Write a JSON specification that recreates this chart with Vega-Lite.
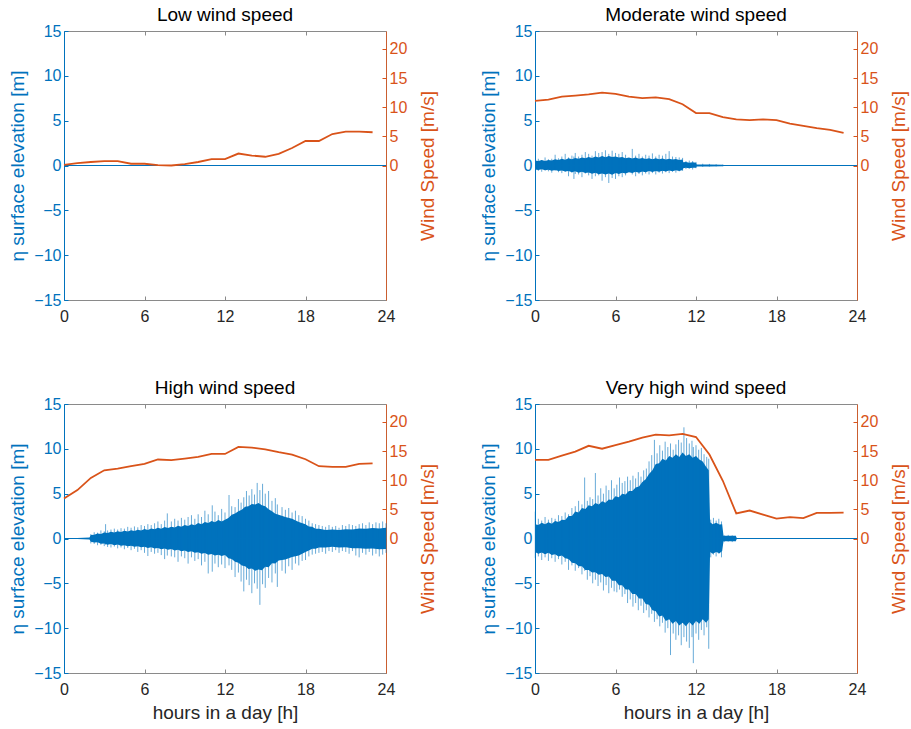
{
  "$schema": "https://vega.github.io/schema/vega-lite/v6.json",
  "background": "white",
  "padding": {"left": 8, "top": 5, "right": 0, "bottom": 0},
  "spacing": {"row": 53, "column": 40},
  "config": {
    "font": "Liberation Sans",
    "view": {"stroke": "#8a8a8a", "strokeWidth": 1},
    "title": {"fontSize": 19, "fontWeight": "normal", "font": "Liberation Sans", "color": "#000000", "offset": -2, "frame": "group"},
    "axis": {"grid": false, "labelFontSize": 16, "titleFontSize": 19, "titleFontWeight": "normal", "ticks": true, "tickSize": -4, "tickWidth": 1, "labelPadding": 7, "titlePadding": 6, "domainWidth": 1, "labelFont": "Liberation Sans", "titleFont": "Liberation Sans", "labelFlush": false},
    "axisLeft": {"labelColor": "#0072BD", "titleColor": "#0072BD", "domainColor": "#0072BD", "tickColor": "#0072BD"},
    "axisRight": {"labelColor": "#D95319", "titleColor": "#D95319", "domainColor": "#D95319", "tickColor": "#D95319", "domainOpacity": 0.8, "titleBaseline": "top", "titlePadding": 12},
    "axisBottom": {"labelColor": "#262626", "titleColor": "#262626", "domainColor": "#8a8a8a", "tickColor": "#8a8a8a", "labelPadding": 12, "titlePadding": 6},
    "axisTop": {"tickColor": "#8a8a8a"}
  },
  "datasets": {
    "wind": [
      {"p":"Low","t":0,"w":0.1},{"p":"Low","t":1,"w":0.4},{"p":"Low","t":2,"w":0.6},{"p":"Low","t":3,"w":0.75},{"p":"Low","t":4,"w":0.75},{"p":"Low","t":5,"w":0.3},{"p":"Low","t":6,"w":0.3},{"p":"Low","t":7,"w":0.05},{"p":"Low","t":8,"w":0},{"p":"Low","t":9,"w":0.25},{"p":"Low","t":10,"w":0.6},{"p":"Low","t":11,"w":1.1},{"p":"Low","t":12,"w":1.1},{"p":"Low","t":13,"w":2.05},{"p":"Low","t":14,"w":1.7},{"p":"Low","t":15,"w":1.5},{"p":"Low","t":16,"w":2.0},{"p":"Low","t":17,"w":3.0},{"p":"Low","t":18,"w":4.2},{"p":"Low","t":19,"w":4.2},{"p":"Low","t":20,"w":5.4},{"p":"Low","t":21,"w":5.8},{"p":"Low","t":22,"w":5.8},{"p":"Low","t":23,"w":5.7},
      {"p":"Mod","t":0,"w":11.1},{"p":"Mod","t":1,"w":11.3},{"p":"Mod","t":2,"w":11.8},{"p":"Mod","t":3,"w":12.0},{"p":"Mod","t":4,"w":12.2},{"p":"Mod","t":5,"w":12.5},{"p":"Mod","t":6,"w":12.3},{"p":"Mod","t":7,"w":11.8},{"p":"Mod","t":8,"w":11.55},{"p":"Mod","t":9,"w":11.7},{"p":"Mod","t":10,"w":11.4},{"p":"Mod","t":11,"w":10.5},{"p":"Mod","t":12,"w":9.0},{"p":"Mod","t":13,"w":9.0},{"p":"Mod","t":14,"w":8.3},{"p":"Mod","t":15,"w":7.9},{"p":"Mod","t":16,"w":7.8},{"p":"Mod","t":17,"w":7.9},{"p":"Mod","t":18,"w":7.8},{"p":"Mod","t":19,"w":7.2},{"p":"Mod","t":20,"w":6.8},{"p":"Mod","t":21,"w":6.4},{"p":"Mod","t":22,"w":6.1},{"p":"Mod","t":23,"w":5.6},
      {"p":"High","t":0,"w":6.85},{"p":"High","t":1,"w":8.3},{"p":"High","t":2,"w":10.4},{"p":"High","t":3,"w":11.7},{"p":"High","t":4,"w":12.0},{"p":"High","t":5,"w":12.4},{"p":"High","t":6,"w":12.8},{"p":"High","t":7,"w":13.55},{"p":"High","t":8,"w":13.45},{"p":"High","t":9,"w":13.7},{"p":"High","t":10,"w":14.0},{"p":"High","t":11,"w":14.5},{"p":"High","t":12,"w":14.5},{"p":"High","t":13,"w":15.7},{"p":"High","t":14,"w":15.6},{"p":"High","t":15,"w":15.3},{"p":"High","t":16,"w":14.8},{"p":"High","t":17,"w":14.4},{"p":"High","t":18,"w":13.6},{"p":"High","t":19,"w":12.4},{"p":"High","t":20,"w":12.3},{"p":"High","t":21,"w":12.3},{"p":"High","t":22,"w":12.8},{"p":"High","t":23,"w":12.9},
      {"p":"VHigh","t":0,"w":13.5},{"p":"VHigh","t":1,"w":13.5},{"p":"VHigh","t":2,"w":14.2},{"p":"VHigh","t":3,"w":14.9},{"p":"VHigh","t":4,"w":15.9},{"p":"VHigh","t":5,"w":15.4},{"p":"VHigh","t":6,"w":16.0},{"p":"VHigh","t":7,"w":16.6},{"p":"VHigh","t":8,"w":17.3},{"p":"VHigh","t":9,"w":17.8},{"p":"VHigh","t":10,"w":17.7},{"p":"VHigh","t":11,"w":17.95},{"p":"VHigh","t":12,"w":17.4},{"p":"VHigh","t":13,"w":14.4},{"p":"VHigh","t":14,"w":9.9},{"p":"VHigh","t":15,"w":4.3},{"p":"VHigh","t":16,"w":4.8},{"p":"VHigh","t":17,"w":4.1},{"p":"VHigh","t":18,"w":3.4},{"p":"VHigh","t":19,"w":3.65},{"p":"VHigh","t":20,"w":3.5},{"p":"VHigh","t":21,"w":4.4},{"p":"VHigh","t":22,"w":4.4},{"p":"VHigh","t":23,"w":4.45}
    ],
    "flat": [
      {"p":"Low","t":0,"lo":0},{"p":"Low","t":24,"lo":0},
      {"p":"Mod","t":0,"lo":0},{"p":"Mod","t":24,"lo":0},
      {"p":"High","t":0,"lo":0},{"p":"High","t":24,"lo":0},
      {"p":"VHigh","t":0,"lo":0},{"p":"VHigh","t":24,"lo":0}
    ],
    "core": [
      {"p":"Mod","t":0,"lo":-0.45,"hi":0.55},{"p":"Mod","t":0.25,"lo":-0.5,"hi":0.5},{"p":"Mod","t":0.5,"lo":-0.42,"hi":0.6},{"p":"Mod","t":0.75,"lo":-0.52,"hi":0.5},{"p":"Mod","t":1,"lo":-0.48,"hi":0.62},{"p":"Mod","t":1.25,"lo":-0.58,"hi":0.55},{"p":"Mod","t":1.5,"lo":-0.5,"hi":0.7},{"p":"Mod","t":1.75,"lo":-0.62,"hi":0.6},{"p":"Mod","t":2,"lo":-0.55,"hi":0.75},{"p":"Mod","t":2.25,"lo":-0.68,"hi":0.65},{"p":"Mod","t":2.5,"lo":-0.6,"hi":0.8},{"p":"Mod","t":2.75,"lo":-0.75,"hi":0.7},{"p":"Mod","t":3,"lo":-0.65,"hi":0.85},{"p":"Mod","t":3.25,"lo":-0.8,"hi":0.75},{"p":"Mod","t":3.5,"lo":-0.7,"hi":0.9},{"p":"Mod","t":3.75,"lo":-0.85,"hi":0.8},{"p":"Mod","t":4,"lo":-0.78,"hi":0.95},{"p":"Mod","t":4.25,"lo":-0.92,"hi":0.85},{"p":"Mod","t":4.5,"lo":-0.82,"hi":1.0},{"p":"Mod","t":4.75,"lo":-0.98,"hi":0.9},{"p":"Mod","t":5,"lo":-0.88,"hi":1.05},{"p":"Mod","t":5.25,"lo":-1.0,"hi":0.92},{"p":"Mod","t":5.5,"lo":-0.9,"hi":1.05},{"p":"Mod","t":5.75,"lo":-1.02,"hi":0.95},{"p":"Mod","t":6,"lo":-0.85,"hi":1.0},{"p":"Mod","t":6.25,"lo":-0.95,"hi":0.88},{"p":"Mod","t":6.5,"lo":-0.8,"hi":0.95},{"p":"Mod","t":6.75,"lo":-0.9,"hi":0.82},{"p":"Mod","t":7,"lo":-0.75,"hi":0.9},{"p":"Mod","t":7.25,"lo":-0.85,"hi":0.78},{"p":"Mod","t":7.5,"lo":-0.7,"hi":0.88},{"p":"Mod","t":7.75,"lo":-0.8,"hi":0.75},{"p":"Mod","t":8,"lo":-0.68,"hi":0.85},{"p":"Mod","t":8.25,"lo":-0.75,"hi":0.72},{"p":"Mod","t":8.5,"lo":-0.62,"hi":0.82},{"p":"Mod","t":8.75,"lo":-0.72,"hi":0.7},{"p":"Mod","t":9,"lo":-0.6,"hi":0.8},{"p":"Mod","t":9.25,"lo":-0.7,"hi":0.7},{"p":"Mod","t":9.5,"lo":-0.58,"hi":0.78},{"p":"Mod","t":9.75,"lo":-0.66,"hi":0.68},{"p":"Mod","t":10,"lo":-0.55,"hi":0.75},{"p":"Mod","t":10.25,"lo":-0.64,"hi":0.66},{"p":"Mod","t":10.5,"lo":-0.52,"hi":0.72},{"p":"Mod","t":10.75,"lo":-0.6,"hi":0.62},{"p":"Mod","t":11,"lo":-0.5,"hi":0.68},{"p":"Mod","t":11.05,"lo":-0.3,"hi":0.35},{"p":"Mod","t":11.25,"lo":-0.26,"hi":0.38},{"p":"Mod","t":11.5,"lo":-0.3,"hi":0.3},{"p":"Mod","t":11.75,"lo":-0.24,"hi":0.36},{"p":"Mod","t":12,"lo":-0.25,"hi":0.3},{"p":"Mod","t":12.05,"lo":-0.12,"hi":0.12},{"p":"Mod","t":13,"lo":-0.1,"hi":0.1},{"p":"Mod","t":14,"lo":-0.08,"hi":0.08},{"p":"Mod","t":14.05,"lo":-0.05,"hi":0.05},{"p":"Mod","t":18,"lo":-0.04,"hi":0.04},{"p":"Mod","t":24,"lo":-0.02,"hi":0.02},
      {"p":"High","t":0,"lo":-0.03,"hi":0.03},{"p":"High","t":1,"lo":-0.05,"hi":0.05},{"p":"High","t":1.9,"lo":-0.1,"hi":0.1},{"p":"High","t":2,"lo":-0.35,"hi":0.4},{"p":"High","t":2.25,"lo":-0.45,"hi":0.42},{"p":"High","t":2.5,"lo":-0.42,"hi":0.55},{"p":"High","t":2.75,"lo":-0.58,"hi":0.5},{"p":"High","t":3,"lo":-0.55,"hi":0.68},{"p":"High","t":3.25,"lo":-0.7,"hi":0.6},{"p":"High","t":3.5,"lo":-0.62,"hi":0.75},{"p":"High","t":3.75,"lo":-0.75,"hi":0.66},{"p":"High","t":4,"lo":-0.68,"hi":0.8},{"p":"High","t":4.25,"lo":-0.8,"hi":0.72},{"p":"High","t":4.5,"lo":-0.74,"hi":0.86},{"p":"High","t":4.75,"lo":-0.86,"hi":0.78},{"p":"High","t":5,"lo":-0.8,"hi":0.92},{"p":"High","t":5.25,"lo":-0.92,"hi":0.84},{"p":"High","t":5.5,"lo":-0.86,"hi":0.98},{"p":"High","t":5.75,"lo":-0.98,"hi":0.9},{"p":"High","t":6,"lo":-0.92,"hi":1.05},{"p":"High","t":6.25,"lo":-1.05,"hi":0.96},{"p":"High","t":6.5,"lo":-0.98,"hi":1.12},{"p":"High","t":6.75,"lo":-1.12,"hi":1.02},{"p":"High","t":7,"lo":-1.05,"hi":1.2},{"p":"High","t":7.25,"lo":-1.2,"hi":1.1},{"p":"High","t":7.5,"lo":-1.12,"hi":1.28},{"p":"High","t":7.75,"lo":-1.26,"hi":1.16},{"p":"High","t":8,"lo":-1.18,"hi":1.32},{"p":"High","t":8.25,"lo":-1.34,"hi":1.22},{"p":"High","t":8.5,"lo":-1.26,"hi":1.42},{"p":"High","t":8.75,"lo":-1.42,"hi":1.3},{"p":"High","t":9,"lo":-1.35,"hi":1.5},{"p":"High","t":9.25,"lo":-1.5,"hi":1.4},{"p":"High","t":9.5,"lo":-1.42,"hi":1.6},{"p":"High","t":9.75,"lo":-1.6,"hi":1.48},{"p":"High","t":10,"lo":-1.52,"hi":1.72},{"p":"High","t":10.25,"lo":-1.7,"hi":1.6},{"p":"High","t":10.5,"lo":-1.62,"hi":1.85},{"p":"High","t":10.75,"lo":-1.8,"hi":1.72},{"p":"High","t":11,"lo":-1.72,"hi":1.95},{"p":"High","t":11.25,"lo":-1.9,"hi":1.82},{"p":"High","t":11.5,"lo":-1.8,"hi":2.05},{"p":"High","t":11.75,"lo":-1.95,"hi":1.9},{"p":"High","t":12,"lo":-1.85,"hi":2.1},{"p":"High","t":12.25,"lo":-2.2,"hi":2.3},{"p":"High","t":12.5,"lo":-2.3,"hi":2.65},{"p":"High","t":12.75,"lo":-2.6,"hi":2.8},{"p":"High","t":13,"lo":-2.7,"hi":3.05},{"p":"High","t":13.25,"lo":-3.0,"hi":3.2},{"p":"High","t":13.5,"lo":-3.1,"hi":3.55},{"p":"High","t":13.75,"lo":-3.4,"hi":3.6},{"p":"High","t":14,"lo":-3.35,"hi":3.85},{"p":"High","t":14.25,"lo":-3.6,"hi":3.8},{"p":"High","t":14.5,"lo":-3.45,"hi":3.95},{"p":"High","t":14.75,"lo":-3.55,"hi":3.7},{"p":"High","t":15,"lo":-3.15,"hi":3.6},{"p":"High","t":15.25,"lo":-3.2,"hi":3.25},{"p":"High","t":15.5,"lo":-2.75,"hi":3.05},{"p":"High","t":15.75,"lo":-2.8,"hi":2.75},{"p":"High","t":16,"lo":-2.45,"hi":2.65},{"p":"High","t":16.5,"lo":-2.35,"hi":2.4},{"p":"High","t":17,"lo":-2.05,"hi":2.2},{"p":"High","t":17.5,"lo":-1.9,"hi":1.85},{"p":"High","t":18,"lo":-1.5,"hi":1.6},{"p":"High","t":18.25,"lo":-1.35,"hi":1.35},{"p":"High","t":18.5,"lo":-1.15,"hi":1.3},{"p":"High","t":18.75,"lo":-1.15,"hi":1.1},{"p":"High","t":19,"lo":-1.0,"hi":1.1},{"p":"High","t":19.5,"lo":-1.0,"hi":0.95},{"p":"High","t":20,"lo":-0.92,"hi":1.0},{"p":"High","t":20.5,"lo":-1.0,"hi":0.95},{"p":"High","t":21,"lo":-0.98,"hi":1.02},{"p":"High","t":21.5,"lo":-1.08,"hi":1.0},{"p":"High","t":22,"lo":-1.1,"hi":1.12},{"p":"High","t":22.5,"lo":-1.15,"hi":1.08},{"p":"High","t":23,"lo":-1.12,"hi":1.18},{"p":"High","t":23.5,"lo":-1.2,"hi":1.12},{"p":"High","t":24,"lo":-1.18,"hi":1.2},
      {"p":"VHigh","t":0,"lo":-1.5,"hi":1.6},{"p":"VHigh","t":0.25,"lo":-1.7,"hi":1.5},{"p":"VHigh","t":0.5,"lo":-1.55,"hi":1.75},{"p":"VHigh","t":0.75,"lo":-1.75,"hi":1.6},{"p":"VHigh","t":1,"lo":-1.6,"hi":1.8},{"p":"VHigh","t":1.25,"lo":-1.85,"hi":1.65},{"p":"VHigh","t":1.5,"lo":-1.75,"hi":1.95},{"p":"VHigh","t":1.75,"lo":-2.0,"hi":1.85},{"p":"VHigh","t":2,"lo":-1.9,"hi":2.1},{"p":"VHigh","t":2.25,"lo":-2.2,"hi":2.05},{"p":"VHigh","t":2.5,"lo":-2.3,"hi":2.5},{"p":"VHigh","t":2.75,"lo":-2.7,"hi":2.5},{"p":"VHigh","t":3,"lo":-2.75,"hi":3.0},{"p":"VHigh","t":3.25,"lo":-3.1,"hi":2.9},{"p":"VHigh","t":3.5,"lo":-3.1,"hi":3.4},{"p":"VHigh","t":3.75,"lo":-3.5,"hi":3.3},{"p":"VHigh","t":4,"lo":-3.5,"hi":3.7},{"p":"VHigh","t":4.25,"lo":-3.8,"hi":3.6},{"p":"VHigh","t":4.5,"lo":-3.75,"hi":3.95},{"p":"VHigh","t":4.75,"lo":-4.05,"hi":3.8},{"p":"VHigh","t":5,"lo":-3.95,"hi":4.15},{"p":"VHigh","t":5.25,"lo":-4.3,"hi":4.0},{"p":"VHigh","t":5.5,"lo":-4.25,"hi":4.35},{"p":"VHigh","t":5.75,"lo":-4.7,"hi":4.3},{"p":"VHigh","t":6,"lo":-4.7,"hi":4.7},{"p":"VHigh","t":6.25,"lo":-5.2,"hi":4.6},{"p":"VHigh","t":6.5,"lo":-5.2,"hi":5.0},{"p":"VHigh","t":6.75,"lo":-5.7,"hi":4.9},{"p":"VHigh","t":7,"lo":-5.7,"hi":5.3},{"p":"VHigh","t":7.25,"lo":-6.2,"hi":5.3},{"p":"VHigh","t":7.5,"lo":-6.2,"hi":5.7},{"p":"VHigh","t":7.75,"lo":-6.7,"hi":5.8},{"p":"VHigh","t":8,"lo":-6.7,"hi":6.3},{"p":"VHigh","t":8.25,"lo":-7.3,"hi":6.6},{"p":"VHigh","t":8.5,"lo":-7.4,"hi":7.2},{"p":"VHigh","t":8.75,"lo":-8.0,"hi":7.6},{"p":"VHigh","t":9,"lo":-8.1,"hi":8.3},{"p":"VHigh","t":9.25,"lo":-8.7,"hi":8.4},{"p":"VHigh","t":9.5,"lo":-8.6,"hi":8.9},{"p":"VHigh","t":9.75,"lo":-9.2,"hi":8.7},{"p":"VHigh","t":10,"lo":-9.0,"hi":9.2},{"p":"VHigh","t":10.25,"lo":-9.5,"hi":9.0},{"p":"VHigh","t":10.5,"lo":-9.2,"hi":9.4},{"p":"VHigh","t":10.75,"lo":-9.7,"hi":9.1},{"p":"VHigh","t":11,"lo":-9.4,"hi":9.6},{"p":"VHigh","t":11.25,"lo":-9.8,"hi":9.2},{"p":"VHigh","t":11.5,"lo":-9.3,"hi":9.4},{"p":"VHigh","t":11.75,"lo":-9.7,"hi":9.0},{"p":"VHigh","t":12,"lo":-9.2,"hi":9.2},{"p":"VHigh","t":12.25,"lo":-9.5,"hi":8.8},{"p":"VHigh","t":12.5,"lo":-9.0,"hi":8.6},{"p":"VHigh","t":12.75,"lo":-9.4,"hi":8.0},{"p":"VHigh","t":12.95,"lo":-9.0,"hi":7.6},{"p":"VHigh","t":13.05,"lo":-1.5,"hi":1.8},{"p":"VHigh","t":13.25,"lo":-1.7,"hi":1.6},{"p":"VHigh","t":13.5,"lo":-1.5,"hi":1.75},{"p":"VHigh","t":13.75,"lo":-1.65,"hi":1.55},{"p":"VHigh","t":13.95,"lo":-1.4,"hi":1.6},{"p":"VHigh","t":14.05,"lo":-0.3,"hi":0.3},{"p":"VHigh","t":14.95,"lo":-0.3,"hi":0.3},{"p":"VHigh","t":15.05,"lo":-0.03,"hi":0.03},{"p":"VHigh","t":24,"lo":-0.02,"hi":0.02}
    ],
    "spike": [
      {"p":"Mod","t":0.25,"lo":-0.6,"hi":0.75},{"p":"Mod","t":0.5,"lo":-0.7,"hi":0.6},{"p":"Mod","t":0.75,"lo":-0.55,"hi":0.9},{"p":"Mod","t":1,"lo":-0.65,"hi":0.7},{"p":"Mod","t":1.25,"lo":-0.8,"hi":0.75},{"p":"Mod","t":1.5,"lo":-0.6,"hi":1.2},{"p":"Mod","t":1.75,"lo":-0.75,"hi":0.8},{"p":"Mod","t":2,"lo":-0.85,"hi":1.0},{"p":"Mod","t":2.25,"lo":-0.7,"hi":1.3},{"p":"Mod","t":2.5,"lo":-1.2,"hi":0.9},{"p":"Mod","t":2.75,"lo":-0.8,"hi":1.1},{"p":"Mod","t":2.9,"lo":-1.5,"hi":1.0},{"p":"Mod","t":3,"lo":-0.95,"hi":1.4},{"p":"Mod","t":3.25,"lo":-1.0,"hi":1.0},{"p":"Mod","t":3.5,"lo":-1.3,"hi":1.2},{"p":"Mod","t":3.75,"lo":-0.9,"hi":1.5},{"p":"Mod","t":4,"lo":-1.1,"hi":1.3},{"p":"Mod","t":4.25,"lo":-1.5,"hi":1.1},{"p":"Mod","t":4.5,"lo":-1.2,"hi":1.6},{"p":"Mod","t":4.75,"lo":-1.1,"hi":1.4},{"p":"Mod","t":5,"lo":-1.7,"hi":1.5},{"p":"Mod","t":5.25,"lo":-1.3,"hi":1.7},{"p":"Mod","t":5.5,"lo":-1.95,"hi":1.3},{"p":"Mod","t":5.75,"lo":-1.4,"hi":1.65},{"p":"Mod","t":6,"lo":-1.5,"hi":1.4},{"p":"Mod","t":6.25,"lo":-1.2,"hi":1.3},{"p":"Mod","t":6.5,"lo":-1.3,"hi":1.5},{"p":"Mod","t":6.75,"lo":-1.1,"hi":1.2},{"p":"Mod","t":7.25,"lo":-1.0,"hi":1.85},{"p":"Mod","t":7.5,"lo":-1.2,"hi":1.1},{"p":"Mod","t":7.75,"lo":-0.95,"hi":1.3},{"p":"Mod","t":8,"lo":-1.1,"hi":1.0},{"p":"Mod","t":8.25,"lo":-0.9,"hi":1.2},{"p":"Mod","t":8.5,"lo":-1.0,"hi":1.1},{"p":"Mod","t":8.75,"lo":-0.85,"hi":1.35},{"p":"Mod","t":9,"lo":-1.0,"hi":1.0},{"p":"Mod","t":9.25,"lo":-0.8,"hi":1.2},{"p":"Mod","t":9.5,"lo":-0.9,"hi":1.1},{"p":"Mod","t":9.75,"lo":-0.75,"hi":1.3},{"p":"Mod","t":10,"lo":-0.85,"hi":1.6},{"p":"Mod","t":10.25,"lo":-0.7,"hi":1.0},{"p":"Mod","t":10.5,"lo":-0.8,"hi":0.95},{"p":"Mod","t":10.75,"lo":-0.65,"hi":0.9},{"p":"Mod","t":11,"lo":-0.6,"hi":0.85},{"p":"Mod","t":11.25,"lo":-0.4,"hi":0.5},{"p":"Mod","t":11.5,"lo":-0.35,"hi":0.55},{"p":"Mod","t":11.75,"lo":-0.45,"hi":0.5},{"p":"Mod","t":12,"lo":-0.3,"hi":0.4},{"p":"Mod","t":12.5,"lo":-0.15,"hi":0.2},{"p":"Mod","t":13,"lo":-0.12,"hi":0.18},{"p":"Mod","t":13.5,"lo":-0.1,"hi":0.15},{"p":"Mod","t":14,"lo":-0.08,"hi":0.1},
      {"p":"High","t":2.0,"lo":-0.55,"hi":0.5},{"p":"High","t":2.25,"lo":-0.6,"hi":0.7},{"p":"High","t":2.5,"lo":-0.75,"hi":0.65},{"p":"High","t":2.75,"lo":-0.7,"hi":0.9},{"p":"High","t":3.0,"lo":-0.85,"hi":0.8},{"p":"High","t":3.1,"lo":-0.7,"hi":1.6},{"p":"High","t":3.25,"lo":-0.95,"hi":0.9},{"p":"High","t":3.5,"lo":-1.0,"hi":1.0},{"p":"High","t":3.75,"lo":-0.9,"hi":1.1},{"p":"High","t":4.0,"lo":-1.1,"hi":1.0},{"p":"High","t":4.25,"lo":-1.0,"hi":1.15},{"p":"High","t":4.5,"lo":-1.2,"hi":1.1},{"p":"High","t":4.75,"lo":-1.05,"hi":1.3},{"p":"High","t":5.0,"lo":-1.3,"hi":1.2},{"p":"High","t":5.25,"lo":-1.15,"hi":1.35},{"p":"High","t":5.5,"lo":-1.5,"hi":1.25},{"p":"High","t":5.75,"lo":-1.3,"hi":1.5},{"p":"High","t":6.0,"lo":-1.6,"hi":1.4},{"p":"High","t":6.25,"lo":-1.95,"hi":1.6},{"p":"High","t":6.5,"lo":-1.5,"hi":1.5},{"p":"High","t":6.75,"lo":-1.7,"hi":1.7},{"p":"High","t":7.0,"lo":-1.6,"hi":1.9},{"p":"High","t":7.25,"lo":-1.85,"hi":1.6},{"p":"High","t":7.5,"lo":-2.3,"hi":2.0},{"p":"High","t":7.7,"lo":-1.9,"hi":2.8},{"p":"High","t":8.0,"lo":-2.0,"hi":1.9},{"p":"High","t":8.25,"lo":-2.1,"hi":2.2},{"p":"High","t":8.5,"lo":-2.6,"hi":2.0},{"p":"High","t":8.75,"lo":-2.0,"hi":2.3},{"p":"High","t":9.0,"lo":-2.2,"hi":2.1},{"p":"High","t":9.25,"lo":-2.8,"hi":2.4},{"p":"High","t":9.5,"lo":-2.1,"hi":2.6},{"p":"High","t":9.75,"lo":-2.5,"hi":2.2},{"p":"High","t":10.0,"lo":-2.3,"hi":2.7},{"p":"High","t":10.25,"lo":-3.0,"hi":2.4},{"p":"High","t":10.5,"lo":-2.6,"hi":3.1},{"p":"High","t":10.75,"lo":-3.9,"hi":2.7},{"p":"High","t":11.05,"lo":-3.7,"hi":3.7},{"p":"High","t":11.25,"lo":-2.8,"hi":3.0},{"p":"High","t":11.5,"lo":-3.2,"hi":2.6},{"p":"High","t":11.75,"lo":-2.9,"hi":3.3},{"p":"High","t":12.0,"lo":-3.3,"hi":2.9},{"p":"High","t":12.3,"lo":-3.0,"hi":4.85},{"p":"High","t":12.5,"lo":-3.5,"hi":3.6},{"p":"High","t":12.75,"lo":-4.3,"hi":3.5},{"p":"High","t":13.0,"lo":-3.8,"hi":4.4},{"p":"High","t":13.2,"lo":-4.8,"hi":4.0},{"p":"High","t":13.4,"lo":-5.9,"hi":4.6},{"p":"High","t":13.6,"lo":-4.6,"hi":5.3},{"p":"High","t":13.8,"lo":-5.2,"hi":4.8},{"p":"High","t":14.0,"lo":-6.1,"hi":5.5},{"p":"High","t":14.2,"lo":-5.0,"hi":4.9},{"p":"High","t":14.4,"lo":-5.6,"hi":6.2},{"p":"High","t":14.6,"lo":-7.4,"hi":5.4},{"p":"High","t":14.8,"lo":-5.1,"hi":6.1},{"p":"High","t":15.0,"lo":-5.5,"hi":5.0},{"p":"High","t":15.25,"lo":-4.4,"hi":5.3},{"p":"High","t":15.5,"lo":-4.9,"hi":4.2},{"p":"High","t":15.75,"lo":-3.9,"hi":4.5},{"p":"High","t":15.9,"lo":-5.4,"hi":3.8},{"p":"High","t":16.25,"lo":-3.6,"hi":3.5},{"p":"High","t":16.5,"lo":-3.9,"hi":3.2},{"p":"High","t":16.75,"lo":-3.1,"hi":3.4},{"p":"High","t":17.0,"lo":-3.5,"hi":2.9},{"p":"High","t":17.25,"lo":-2.8,"hi":3.1},{"p":"High","t":17.5,"lo":-3.0,"hi":2.6},{"p":"High","t":17.75,"lo":-2.5,"hi":2.5},{"p":"High","t":18.0,"lo":-2.4,"hi":2.2},{"p":"High","t":18.25,"lo":-2.0,"hi":2.0},{"p":"High","t":18.5,"lo":-1.8,"hi":1.7},{"p":"High","t":18.75,"lo":-1.7,"hi":1.6},{"p":"High","t":19.0,"lo":-1.6,"hi":1.5},{"p":"High","t":19.25,"lo":-1.5,"hi":1.4},{"p":"High","t":19.5,"lo":-1.7,"hi":1.3},{"p":"High","t":19.75,"lo":-1.4,"hi":1.5},{"p":"High","t":20.0,"lo":-1.5,"hi":1.3},{"p":"High","t":20.25,"lo":-1.3,"hi":1.4},{"p":"High","t":20.5,"lo":-1.6,"hi":1.2},{"p":"High","t":20.75,"lo":-1.4,"hi":1.5},{"p":"High","t":21.0,"lo":-1.5,"hi":1.4},{"p":"High","t":21.25,"lo":-1.7,"hi":1.6},{"p":"High","t":21.5,"lo":-1.4,"hi":1.5},{"p":"High","t":21.75,"lo":-1.9,"hi":1.4},{"p":"High","t":22.0,"lo":-2.1,"hi":1.6},{"p":"High","t":22.25,"lo":-1.6,"hi":1.7},{"p":"High","t":22.5,"lo":-1.8,"hi":1.5},{"p":"High","t":22.75,"lo":-1.5,"hi":1.8},{"p":"High","t":23.0,"lo":-1.9,"hi":1.6},{"p":"High","t":23.25,"lo":-1.7,"hi":1.8},{"p":"High","t":23.5,"lo":-2.0,"hi":1.7},{"p":"High","t":23.75,"lo":-1.8,"hi":1.9},{"p":"High","t":24.0,"lo":-1.6,"hi":1.7},
      {"p":"VHigh","t":0.02,"lo":-2.2,"hi":3.0},{"p":"VHigh","t":0.25,"lo":-2.0,"hi":2.2},{"p":"VHigh","t":0.5,"lo":-2.4,"hi":2.0},{"p":"VHigh","t":0.75,"lo":-2.1,"hi":2.4},{"p":"VHigh","t":1.0,"lo":-2.5,"hi":2.1},{"p":"VHigh","t":1.25,"lo":-2.2,"hi":2.3},{"p":"VHigh","t":1.5,"lo":-2.6,"hi":2.2},{"p":"VHigh","t":1.75,"lo":-2.3,"hi":2.6},{"p":"VHigh","t":2.0,"lo":-2.9,"hi":2.5},{"p":"VHigh","t":2.25,"lo":-2.6,"hi":2.9},{"p":"VHigh","t":2.5,"lo":-3.5,"hi":2.7},{"p":"VHigh","t":2.75,"lo":-3.0,"hi":3.4},{"p":"VHigh","t":3.0,"lo":-3.6,"hi":3.6},{"p":"VHigh","t":3.25,"lo":-3.3,"hi":4.2},{"p":"VHigh","t":3.5,"lo":-4.0,"hi":3.8},{"p":"VHigh","t":3.7,"lo":-3.6,"hi":6.8},{"p":"VHigh","t":3.9,"lo":-4.6,"hi":4.2},{"p":"VHigh","t":4.1,"lo":-4.2,"hi":4.6},{"p":"VHigh","t":4.3,"lo":-5.0,"hi":4.4},{"p":"VHigh","t":4.5,"lo":-4.6,"hi":7.3},{"p":"VHigh","t":4.7,"lo":-5.3,"hi":4.8},{"p":"VHigh","t":4.9,"lo":-4.9,"hi":5.6},{"p":"VHigh","t":5.1,"lo":-5.8,"hi":5.0},{"p":"VHigh","t":5.3,"lo":-5.2,"hi":5.9},{"p":"VHigh","t":5.5,"lo":-6.1,"hi":5.4},{"p":"VHigh","t":5.7,"lo":-5.5,"hi":6.5},{"p":"VHigh","t":5.9,"lo":-5.9,"hi":5.6},{"p":"VHigh","t":6.1,"lo":-6.0,"hi":6.0},{"p":"VHigh","t":6.3,"lo":-5.7,"hi":6.8},{"p":"VHigh","t":6.5,"lo":-6.5,"hi":6.2},{"p":"VHigh","t":6.7,"lo":-6.2,"hi":6.4},{"p":"VHigh","t":6.9,"lo":-7.2,"hi":6.9},{"p":"VHigh","t":7.1,"lo":-6.8,"hi":6.5},{"p":"VHigh","t":7.3,"lo":-7.6,"hi":7.0},{"p":"VHigh","t":7.5,"lo":-7.2,"hi":6.7},{"p":"VHigh","t":7.7,"lo":-8.0,"hi":7.4},{"p":"VHigh","t":7.9,"lo":-7.5,"hi":6.9},{"p":"VHigh","t":8.1,"lo":-8.3,"hi":7.6},{"p":"VHigh","t":8.3,"lo":-8.0,"hi":7.8},{"p":"VHigh","t":8.5,"lo":-8.8,"hi":8.6},{"p":"VHigh","t":8.7,"lo":-8.4,"hi":9.3},{"p":"VHigh","t":8.9,"lo":-9.3,"hi":11.0},{"p":"VHigh","t":9.1,"lo":-9.0,"hi":9.5},{"p":"VHigh","t":9.3,"lo":-9.8,"hi":10.4},{"p":"VHigh","t":9.5,"lo":-9.4,"hi":9.8},{"p":"VHigh","t":9.7,"lo":-10.5,"hi":10.8},{"p":"VHigh","t":9.9,"lo":-10.0,"hi":10.2},{"p":"VHigh","t":10.1,"lo":-13.0,"hi":10.6},{"p":"VHigh","t":10.3,"lo":-10.6,"hi":9.9},{"p":"VHigh","t":10.5,"lo":-11.3,"hi":10.5},{"p":"VHigh","t":10.7,"lo":-10.8,"hi":11.0},{"p":"VHigh","t":10.9,"lo":-11.9,"hi":10.7},{"p":"VHigh","t":11.1,"lo":-11.0,"hi":12.4},{"p":"VHigh","t":11.3,"lo":-11.5,"hi":11.2},{"p":"VHigh","t":11.5,"lo":-12.2,"hi":10.6},{"p":"VHigh","t":11.7,"lo":-11.0,"hi":10.9},{"p":"VHigh","t":11.8,"lo":-13.9,"hi":10.2},{"p":"VHigh","t":12.0,"lo":-10.6,"hi":10.4},{"p":"VHigh","t":12.2,"lo":-11.3,"hi":9.9},{"p":"VHigh","t":12.4,"lo":-10.2,"hi":10.1},{"p":"VHigh","t":12.6,"lo":-10.8,"hi":9.4},{"p":"VHigh","t":12.8,"lo":-9.9,"hi":9.1},{"p":"VHigh","t":12.95,"lo":-12.3,"hi":8.9},{"p":"VHigh","t":13.1,"lo":-2.1,"hi":2.1},{"p":"VHigh","t":13.3,"lo":-1.8,"hi":2.3},{"p":"VHigh","t":13.5,"lo":-2.0,"hi":2.0},{"p":"VHigh","t":13.7,"lo":-1.7,"hi":2.2},{"p":"VHigh","t":13.9,"lo":-2.1,"hi":1.9},{"p":"VHigh","t":14.1,"lo":-0.4,"hi":0.35},{"p":"VHigh","t":14.4,"lo":-0.35,"hi":0.4},{"p":"VHigh","t":14.7,"lo":-0.4,"hi":0.35},{"p":"VHigh","t":14.95,"lo":-0.3,"hi":0.3}
    ]
  },
  "columns": 2,
  "concat": [
    {
      "width": 322, "height": 269,
      "title": {"text": "Low wind speed", "fontWeight": "normal"},
      "layer": [
        {"layer": [
          {"data": {"name": "core"}, "transform": [{"filter": "datum.p == 'Low'"}], "mark": {"type": "area", "color": "#0072BD"},
           "encoding": {"x": {"field": "t", "type": "quantitative", "scale": {"domain": [0, 24], "nice": false}, "axis": {"values": [0, 6, 12, 18, 24], "title": null}},
                        "y": {"field": "lo", "type": "quantitative", "scale": {"domain": [-15, 15], "nice": false}, "axis": {"values": [-15, -10, -5, 0, 5, 10, 15], "title": "η surface elevation [m]"}}, "y2": {"field": "hi"}}},
          {"data": {"name": "spike"}, "transform": [{"filter": "datum.p == 'Low'"}], "mark": {"type": "rule", "color": "#0072BD", "strokeWidth": 0.8, "opacity": 0.75},
           "encoding": {"x": {"field": "t", "type": "quantitative", "scale": {"domain": [0, 24], "nice": false}, "axis": {"values": [0, 6, 12, 18, 24], "title": null}},
                        "y": {"field": "lo", "type": "quantitative", "scale": {"domain": [-15, 15], "nice": false}, "axis": {"values": [-15, -10, -5, 0, 5, 10, 15], "title": "η surface elevation [m]"}}, "y2": {"field": "hi"}}},
          {"data": {"name": "flat"}, "transform": [{"filter": "datum.p == 'Low'"}], "mark": {"type": "line", "color": "#0072BD", "strokeWidth": 1},
           "encoding": {"x": {"field": "t", "type": "quantitative", "scale": {"domain": [0, 24], "nice": false}, "axis": {"values": [0, 6, 12, 18, 24], "title": null}},
                        "y": {"field": "lo", "type": "quantitative", "scale": {"domain": [-15, 15], "nice": false}, "axis": {"values": [-15, -10, -5, 0, 5, 10, 15], "title": "η surface elevation [m]"}}}}
        ]},
        {"data": {"name": "wind"}, "transform": [{"filter": "datum.p == 'Low'"}], "mark": {"type": "line", "color": "#D95319", "strokeWidth": 1.8},
         "encoding": {"x": {"field": "t", "type": "quantitative", "scale": {"domain": [0, 24], "nice": false}, "axis": {"orient": "top", "values": [6, 12, 18], "labels": false, "domain": false, "title": null}},
                      "y": {"field": "w", "type": "quantitative", "scale": {"domain": [-23.07, 23.07], "nice": false}, "axis": {"orient": "right", "values": [0, 5, 10, 15, 20], "title": "Wind Speed [m/s]", "titleAngle": 270}}}}
      ],
      "resolve": {"scale": {"y": "independent"}, "axis": {"x": "independent"}}
    },
    {
      "width": 322, "height": 269,
      "title": {"text": "Moderate wind speed", "fontWeight": "normal"},
      "layer": [
        {"layer": [
          {"data": {"name": "core"}, "transform": [{"filter": "datum.p == 'Mod'"}], "mark": {"type": "area", "color": "#0072BD"},
           "encoding": {"x": {"field": "t", "type": "quantitative", "scale": {"domain": [0, 24], "nice": false}, "axis": {"values": [0, 6, 12, 18, 24], "title": null}},
                        "y": {"field": "lo", "type": "quantitative", "scale": {"domain": [-15, 15], "nice": false}, "axis": {"values": [-15, -10, -5, 0, 5, 10, 15], "title": "η surface elevation [m]"}}, "y2": {"field": "hi"}}},
          {"data": {"name": "spike"}, "transform": [{"filter": "datum.p == 'Mod'"}], "mark": {"type": "rule", "color": "#0072BD", "strokeWidth": 0.8, "opacity": 0.75},
           "encoding": {"x": {"field": "t", "type": "quantitative", "scale": {"domain": [0, 24], "nice": false}, "axis": {"values": [0, 6, 12, 18, 24], "title": null}},
                        "y": {"field": "lo", "type": "quantitative", "scale": {"domain": [-15, 15], "nice": false}, "axis": {"values": [-15, -10, -5, 0, 5, 10, 15], "title": "η surface elevation [m]"}}, "y2": {"field": "hi"}}},
          {"data": {"name": "flat"}, "transform": [{"filter": "datum.p == 'Mod'"}], "mark": {"type": "line", "color": "#0072BD", "strokeWidth": 1},
           "encoding": {"x": {"field": "t", "type": "quantitative", "scale": {"domain": [0, 24], "nice": false}, "axis": {"values": [0, 6, 12, 18, 24], "title": null}},
                        "y": {"field": "lo", "type": "quantitative", "scale": {"domain": [-15, 15], "nice": false}, "axis": {"values": [-15, -10, -5, 0, 5, 10, 15], "title": "η surface elevation [m]"}}}}
        ]},
        {"data": {"name": "wind"}, "transform": [{"filter": "datum.p == 'Mod'"}], "mark": {"type": "line", "color": "#D95319", "strokeWidth": 1.8},
         "encoding": {"x": {"field": "t", "type": "quantitative", "scale": {"domain": [0, 24], "nice": false}, "axis": {"orient": "top", "values": [6, 12, 18], "labels": false, "domain": false, "title": null}},
                      "y": {"field": "w", "type": "quantitative", "scale": {"domain": [-23.07, 23.07], "nice": false}, "axis": {"orient": "right", "values": [0, 5, 10, 15, 20], "title": "Wind Speed [m/s]", "titleAngle": 270}}}}
      ],
      "resolve": {"scale": {"y": "independent"}, "axis": {"x": "independent"}}
    },
    {
      "width": 322, "height": 269,
      "title": {"text": "High wind speed", "fontWeight": "normal"},
      "layer": [
        {"layer": [
          {"data": {"name": "core"}, "transform": [{"filter": "datum.p == 'High'"}], "mark": {"type": "area", "color": "#0072BD"},
           "encoding": {"x": {"field": "t", "type": "quantitative", "scale": {"domain": [0, 24], "nice": false}, "axis": {"values": [0, 6, 12, 18, 24], "title": "hours in a day [h]"}},
                        "y": {"field": "lo", "type": "quantitative", "scale": {"domain": [-15, 15], "nice": false}, "axis": {"values": [-15, -10, -5, 0, 5, 10, 15], "title": "η surface elevation [m]"}}, "y2": {"field": "hi"}}},
          {"data": {"name": "spike"}, "transform": [{"filter": "datum.p == 'High'"}], "mark": {"type": "rule", "color": "#0072BD", "strokeWidth": 0.8, "opacity": 0.75},
           "encoding": {"x": {"field": "t", "type": "quantitative", "scale": {"domain": [0, 24], "nice": false}, "axis": {"values": [0, 6, 12, 18, 24], "title": "hours in a day [h]"}},
                        "y": {"field": "lo", "type": "quantitative", "scale": {"domain": [-15, 15], "nice": false}, "axis": {"values": [-15, -10, -5, 0, 5, 10, 15], "title": "η surface elevation [m]"}}, "y2": {"field": "hi"}}},
          {"data": {"name": "flat"}, "transform": [{"filter": "datum.p == 'High'"}], "mark": {"type": "line", "color": "#0072BD", "strokeWidth": 1},
           "encoding": {"x": {"field": "t", "type": "quantitative", "scale": {"domain": [0, 24], "nice": false}, "axis": {"values": [0, 6, 12, 18, 24], "title": "hours in a day [h]"}},
                        "y": {"field": "lo", "type": "quantitative", "scale": {"domain": [-15, 15], "nice": false}, "axis": {"values": [-15, -10, -5, 0, 5, 10, 15], "title": "η surface elevation [m]"}}}}
        ]},
        {"data": {"name": "wind"}, "transform": [{"filter": "datum.p == 'High'"}], "mark": {"type": "line", "color": "#D95319", "strokeWidth": 1.8},
         "encoding": {"x": {"field": "t", "type": "quantitative", "scale": {"domain": [0, 24], "nice": false}, "axis": {"orient": "top", "values": [6, 12, 18], "labels": false, "domain": false, "title": null}},
                      "y": {"field": "w", "type": "quantitative", "scale": {"domain": [-23.07, 23.07], "nice": false}, "axis": {"orient": "right", "values": [0, 5, 10, 15, 20], "title": "Wind Speed [m/s]", "titleAngle": 270}}}}
      ],
      "resolve": {"scale": {"y": "independent"}, "axis": {"x": "independent"}}
    },
    {
      "width": 322, "height": 269,
      "title": {"text": "Very high wind speed", "fontWeight": "normal"},
      "layer": [
        {"layer": [
          {"data": {"name": "core"}, "transform": [{"filter": "datum.p == 'VHigh'"}], "mark": {"type": "area", "color": "#0072BD"},
           "encoding": {"x": {"field": "t", "type": "quantitative", "scale": {"domain": [0, 24], "nice": false}, "axis": {"values": [0, 6, 12, 18, 24], "title": "hours in a day [h]"}},
                        "y": {"field": "lo", "type": "quantitative", "scale": {"domain": [-15, 15], "nice": false}, "axis": {"values": [-15, -10, -5, 0, 5, 10, 15], "title": "η surface elevation [m]"}}, "y2": {"field": "hi"}}},
          {"data": {"name": "spike"}, "transform": [{"filter": "datum.p == 'VHigh'"}], "mark": {"type": "rule", "color": "#0072BD", "strokeWidth": 0.8, "opacity": 0.75},
           "encoding": {"x": {"field": "t", "type": "quantitative", "scale": {"domain": [0, 24], "nice": false}, "axis": {"values": [0, 6, 12, 18, 24], "title": "hours in a day [h]"}},
                        "y": {"field": "lo", "type": "quantitative", "scale": {"domain": [-15, 15], "nice": false}, "axis": {"values": [-15, -10, -5, 0, 5, 10, 15], "title": "η surface elevation [m]"}}, "y2": {"field": "hi"}}},
          {"data": {"name": "flat"}, "transform": [{"filter": "datum.p == 'VHigh'"}], "mark": {"type": "line", "color": "#0072BD", "strokeWidth": 1},
           "encoding": {"x": {"field": "t", "type": "quantitative", "scale": {"domain": [0, 24], "nice": false}, "axis": {"values": [0, 6, 12, 18, 24], "title": "hours in a day [h]"}},
                        "y": {"field": "lo", "type": "quantitative", "scale": {"domain": [-15, 15], "nice": false}, "axis": {"values": [-15, -10, -5, 0, 5, 10, 15], "title": "η surface elevation [m]"}}}}
        ]},
        {"data": {"name": "wind"}, "transform": [{"filter": "datum.p == 'VHigh'"}], "mark": {"type": "line", "color": "#D95319", "strokeWidth": 1.8},
         "encoding": {"x": {"field": "t", "type": "quantitative", "scale": {"domain": [0, 24], "nice": false}, "axis": {"orient": "top", "values": [6, 12, 18], "labels": false, "domain": false, "title": null}},
                      "y": {"field": "w", "type": "quantitative", "scale": {"domain": [-23.07, 23.07], "nice": false}, "axis": {"orient": "right", "values": [0, 5, 10, 15, 20], "title": "Wind Speed [m/s]", "titleAngle": 270}}}}
      ],
      "resolve": {"scale": {"y": "independent"}, "axis": {"x": "independent"}}
    }
  ]
}
